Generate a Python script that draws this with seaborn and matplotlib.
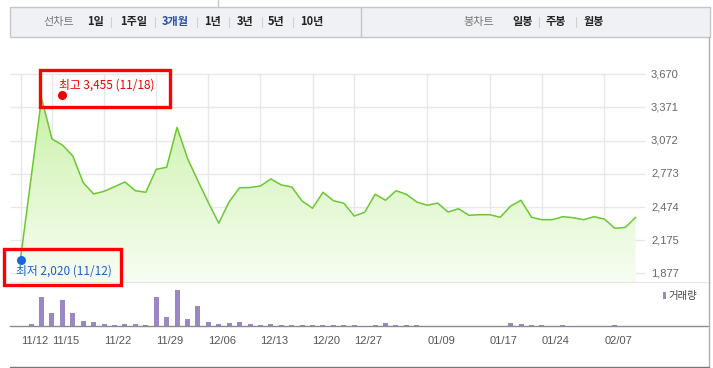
import numpy as np
import matplotlib
matplotlib.use("Agg")
import matplotlib.pyplot as plt
from matplotlib.colors import LinearSegmentedColormap
from matplotlib.patches import Rectangle
import seaborn as sns

# ---- data ----
price = [2020, 2740, 3455, 3087, 3033, 2934, 2693, 2592, 2616, 2657,
         2700, 2621, 2607, 2814, 2832, 3192, 2913, 2709, 2515, 2328,
         2522, 2648, 2650, 2664, 2727, 2673, 2655, 2528, 2463, 2607,
         2531, 2508, 2393, 2427, 2589, 2535, 2621, 2589, 2519, 2490,
         2510, 2429, 2459, 2400, 2405, 2405, 2382, 2483, 2535, 2382,
         2360, 2360, 2387, 2378, 2360, 2387, 2366, 2282, 2291, 2382]
volume = [0, 20, 293, 133, 260, 133, 50, 40, 23, 13,
          23, 23, 13, 293, 93, 360, 73, 203, 40, 23,
          33, 40, 23, 13, 23, 13, 13, 13, 13, 13,
          13, 13, 13, 0, 13, 33, 13, 13, 13, 0,
          0, 0, 0, 0, 0, 0, 0, 33, 20, 13,
          13, 0, 13, 0, 0, 0, 0, 13, 0, 0]
tick_pos = [0, 3, 8, 13, 18, 23, 28, 32, 39, 45, 50, 56]
tick_labels = ["11/12", "11/15", "11/22", "11/29", "12/06", "12/13",
               "12/20", "12/27", "01/09", "01/17", "01/24", "02/07"]
y_ticks = [1877, 2175, 2474, 2773, 3072, 3371, 3670]
menu_left = ["선차트", "1일", "1주일", "3개월", "1년", "3년", "5년", "10년"]
menu_right = ["봉차트", "일봉", "주봉", "월봉"]
high_label = "최고 3,455 (11/18)"
low_label = "최저 2,020 (11/12)"
vol_label = "거래량"

idx = np.arange(len(price))

# ---- layout (pixels of the 713x368 picture) ----
W, H = 713, 368
x0_px, step_px = 20.7, 10.424          # first point, spacing between days
left_px, right_px, grid_right_px = 10, 709, 645
top_y_px, bot_y_px = 74.3, 273.3       # 3670 and 1877 gridlines
price_top_px, price_bot_px, vol_bot_px = 50, 283.3, 326
per_px = (y_ticks[-1] - y_ticks[0]) / (bot_y_px - top_y_px)

def xi(px):
    return (px - x0_px) / step_px

xmin, xmax = xi(left_px), xi(right_px)
ymax = y_ticks[-1] + (top_y_px - price_top_px) * per_px
ymin = y_ticks[0] - (price_bot_px - bot_y_px) * per_px

def fig_rect(l, t, r, b):
    return [l / W, 1 - b / H, (r - l) / W, (b - t) / H]

sns.set_style("white")
plt.rcParams["font.family"] = ["Liberation Sans", "Noto Sans CJK KR", "DejaVu Sans"]
kr = ["Noto Sans CJK KR", "DejaVu Sans"]

fig = plt.figure(figsize=(W / 100, H / 100), dpi=100)

# ---- price panel ----
ax = fig.add_axes(fig_rect(left_px, price_top_px, right_px, price_bot_px))
ax.set_xlim(xmin, xmax)
ax.set_ylim(ymin, ymax)
ax.hlines(y_ticks, xmin, xi(grid_right_px), color="#e8e8e8", lw=1, zorder=0)
ax.vlines(tick_pos, ymin, y_ticks[-1], color="#e8e8e8", lw=1, zorder=0)

poly = ax.fill_between(idx, price, ymin, facecolor="none", edgecolor="none")
cmap = LinearSegmentedColormap.from_list("g", ["#f8fdf3", "#dcf6c6", "#b8ec88"])
grad = np.linspace(0, 1, 256).reshape(-1, 1)
im = ax.imshow(grad, cmap=cmap, origin="lower", aspect="auto",
               extent=[idx[0], idx[-1], ymin, ymax], zorder=1)
im.set_clip_path(poly.get_paths()[0], transform=ax.transData)
sns.lineplot(x=idx, y=price, ax=ax, color="#6cc832", lw=1.1, zorder=3)
ax.set_xlim(xmin, xmax)
ax.set_ylim(ymin, ymax)

for v in y_ticks:
    ax.text(xi(651), v, f"{v:,}", ha="left", va="center", fontsize=8, color="#666")
low_i = int(np.argmin(price))
ax.scatter([idx[low_i]], [price[low_i] - 2.5 * per_px], s=30, color="#1a66dd", zorder=5)

ax.set_xticks([])
ax.set_yticks([])
ax.set_xlabel("")
ax.set_ylabel("")
for s in ["top", "left", "right"]:
    ax.spines[s].set_visible(False)
ax.spines["bottom"].set_color("#8a8a8a")
ax.spines["bottom"].set_linewidth(1)

# ---- volume panel ----
axv = fig.add_axes(fig_rect(left_px, price_bot_px, right_px, vol_bot_px))
sns.barplot(x=idx, y=volume, ax=axv, native_scale=True, width=0.48,
            color="#9b86c6", saturation=1, edgecolor="none")
axv.set_xlim(xmin, xmax)
axv.set_ylim(0, (vol_bot_px - price_bot_px) * 10)
axv.set_yticks([])
axv.set_xticks(tick_pos)
axv.set_xticklabels(tick_labels, ha="left")
axv.tick_params(axis="x", length=4, color="#8a8a8a", pad=3, labelsize=8, labelcolor="#555")
axv.set_xlabel("")
axv.set_ylabel("")
for s in ["top", "left", "right"]:
    axv.spines[s].set_visible(False)
axv.spines["bottom"].set_color("#8a8a8a")
axv.spines["bottom"].set_linewidth(1)

# ---- overlay in pixel coords: menu, frame, annotation boxes ----
ov = fig.add_axes([0, 0, 1, 1], zorder=10)
ov.set_xlim(0, W)
ov.set_ylim(H, 0)
ov.axis("off")

ov.add_patch(Rectangle((10, 7), 700, 30.3, facecolor="#f0f1f5", edgecolor="#c4c6cc", lw=1))
ov.plot([361, 361], [7, 37.3], color="#c4c6cc", lw=1)
ov.plot([218, 218], [0, 7], color="#c4c6cc", lw=1)
ov.plot([709, 709], [37.3, 368], color="#b0b0b0", lw=1)
ov.plot([10, 709], [367, 367], color="#777", lw=1)

left_x = [43, 87, 120, 162, 204, 237, 268, 300]
for i, (t, x) in enumerate(zip(menu_left, left_x)):
    if i == 0:
        kw = dict(color="#777", fontweight="normal")
    elif t == "3개월":
        kw = dict(color="#2b4ea8", fontweight="bold")
    else:
        kw = dict(color="#222", fontweight="bold")
    ov.text(x, 22, t, ha="left", va="center", fontsize=8, family=kr, **kw)
for x in [111, 155, 197, 229, 262, 293]:
    ov.plot([x, x], [17, 27], color="#d0d0d0", lw=0.8)

right_x = [463, 512, 546, 584]
for i, (t, x) in enumerate(zip(menu_right, right_x)):
    kw = dict(color="#777", fontweight="normal") if i == 0 else dict(color="#222", fontweight="bold")
    ov.text(x, 22, t, ha="left", va="center", fontsize=8, family=kr, **kw)
for x in [539, 576]:
    ov.plot([x, x], [17, 27], color="#d0d0d0", lw=0.8)

# high / low labels with red screenshot boxes
ov.text(59, 85, high_label, ha="left", va="center", fontsize=8.5, color="#f00000", family=kr)
ov.scatter([62.3], [95], s=30, color="#f00000", zorder=5)
ov.add_patch(Rectangle((39.5, 69.5), 130.5, 37.5, facecolor="none", edgecolor="#ff0000", lw=2.4))
ov.text(16, 271.5, low_label, ha="left", va="center", fontsize=8.5, color="#1a5fd0", family=kr)
ov.add_patch(Rectangle((4, 249), 117, 36, facecolor="none", edgecolor="#ff0000", lw=2.4))

# volume legend
ov.add_patch(Rectangle((663, 291.7), 2.7, 7.6, facecolor="#9b86c6", edgecolor="none"))
ov.text(668.5, 295.5, vol_label, ha="left", va="center", fontsize=7.5, color="#444", family=kr)

fig.savefig("out.png", dpi=100)
